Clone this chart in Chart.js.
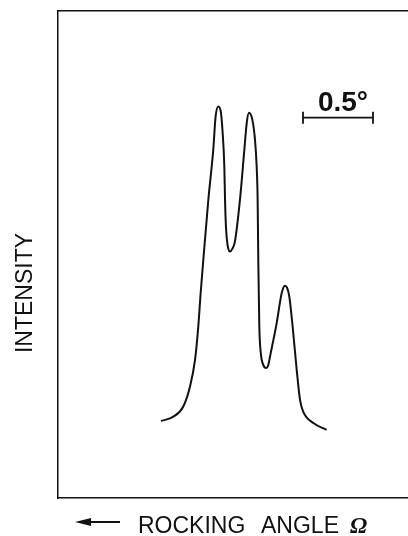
<!DOCTYPE html>
<html>
<head>
<meta charset="utf-8">
<script src="https://cdn.jsdelivr.net/npm/chart.js@4.4.1/dist/chart.umd.min.js"></script>
<style>
  html, body { margin: 0; padding: 0; background: #fff; }
  #wrap { width: 408px; height: 536px; }
</style>
</head>
<body>
<div id="wrap"><canvas id="rocking" width="408" height="536"></canvas></div>
<script>
// rocking curve, angle in degrees vs intensity (arbitrary units)
const omega = [
  0.736, 0.824, 0.895, 0.943, 0.979, 1.002, 1.019, 1.038, 1.074, 1.109,
  1.126, 1.145, 1.164, 1.176, 1.188, 1.193, 1.200, 1.211, 1.229, 1.246,
  1.264, 1.300, 1.331, 1.348, 1.364, 1.388, 1.407, 1.419, 1.426, 1.431,
  1.438, 1.450, 1.464, 1.486, 1.500, 1.519, 1.562, 1.598, 1.621, 1.636,
  1.652, 1.676, 1.705, 1.729, 1.752, 1.824, 1.919
];
const intensity = [
  15.8, 16.7, 18.8, 22.9, 28.4, 35.2, 42.1, 48.9, 61.3, 71.5,
  78.4, 80.4, 79.1, 75.0, 68.1, 61.3, 55.5, 52.0, 50.6, 51.2,
  52.7, 61.3, 71.5, 77.0, 79.1, 77.7, 73.6, 68.1, 61.3, 47.9,
  35.2, 29.4, 27.5, 26.7, 27.1, 29.7, 35.9, 42.1, 43.6, 43.2,
  41.4, 35.2, 26.3, 20.1, 17.7, 15.4, 14.0
];

// scale bar: 0.5 degree span, drawn at this intensity level
const scaleBar = [1.75, 2.25];
const scaleBarLevel = 78.1;
const scaleBarLabel = '0.5°';

const xRange = [0, 2.5];
const yRange = [0, 100];

const ink = '#111';

const annotations = {
  id: 'annotations',
  afterDraw(chart) {
    const c = chart.ctx;
    const xs = chart.scales.x;
    const ys = chart.scales.y;
    c.save();
    c.strokeStyle = ink;
    c.fillStyle = ink;

    // scale bar with end caps
    const x0 = xs.getPixelForValue(scaleBar[0]);
    const x1 = xs.getPixelForValue(scaleBar[1]);
    const yb = ys.getPixelForValue(scaleBarLevel);
    c.lineWidth = 1.8;
    c.beginPath();
    c.moveTo(x0, yb); c.lineTo(x1, yb);
    c.moveTo(x0, yb - 6); c.lineTo(x0, yb + 6);
    c.moveTo(x1, yb - 6); c.lineTo(x1, yb + 6);
    c.stroke();
    c.font = 'bold 28px "Liberation Sans", Arial, sans-serif';
    c.textAlign = 'center';
    c.textBaseline = 'alphabetic';
    c.fillText(scaleBarLabel, (x0 + x1) / 2 + 5, yb - 7);

    // y axis label
    c.save();
    c.translate(32, 293);
    c.rotate(-Math.PI / 2);
    c.font = '23px "Liberation Sans", Arial, sans-serif';
    c.textAlign = 'center';
    c.fillText('INTENSITY', 0, 0);
    c.restore();

    // x axis label with direction arrow
    c.lineWidth = 2;
    c.beginPath();
    c.moveTo(88, 522); c.lineTo(120, 522);
    c.stroke();
    c.beginPath();
    c.moveTo(75, 522); c.lineTo(91, 518); c.lineTo(91, 526);
    c.closePath();
    c.fill();
    c.textAlign = 'left';
    c.font = '23px "Liberation Sans", Arial, sans-serif';
    c.fillText('ROCKING', 138, 533);
    c.fillText('ANGLE', 261, 533);
    c.font = 'italic bold 23px "Liberation Serif", "Times New Roman", serif';
    c.fillText('Ω', 350, 533);
    c.restore();
  }
};

const axisStyle = {
  ticks: { display: false },
  grid: { display: false, drawTicks: false },
  border: { display: true, color: ink, width: 1.5 }
};

new Chart(document.getElementById('rocking'), {
  type: 'line',
  data: {
    datasets: [{
      data: omega.map((x, i) => ({ x: x, y: intensity[i] })),
      borderColor: ink,
      borderWidth: 2,
      pointRadius: 0,
      fill: false,
      cubicInterpolationMode: 'monotone'
    }]
  },
  options: {
    responsive: false,
    animation: false,
    layout: { padding: { left: 58, top: 11, right: 0, bottom: 38 } },
    plugins: { legend: { display: false }, tooltip: { enabled: false } },
    scales: {
      x: Object.assign({ type: 'linear', position: 'bottom', min: xRange[0], max: xRange[1] }, axisStyle),
      x2: Object.assign({ type: 'linear', position: 'top', min: xRange[0], max: xRange[1] }, axisStyle),
      y: Object.assign({ type: 'linear', position: 'left', min: yRange[0], max: yRange[1] }, axisStyle)
    }
  },
  plugins: [annotations]
});
</script>
</body>
</html>
